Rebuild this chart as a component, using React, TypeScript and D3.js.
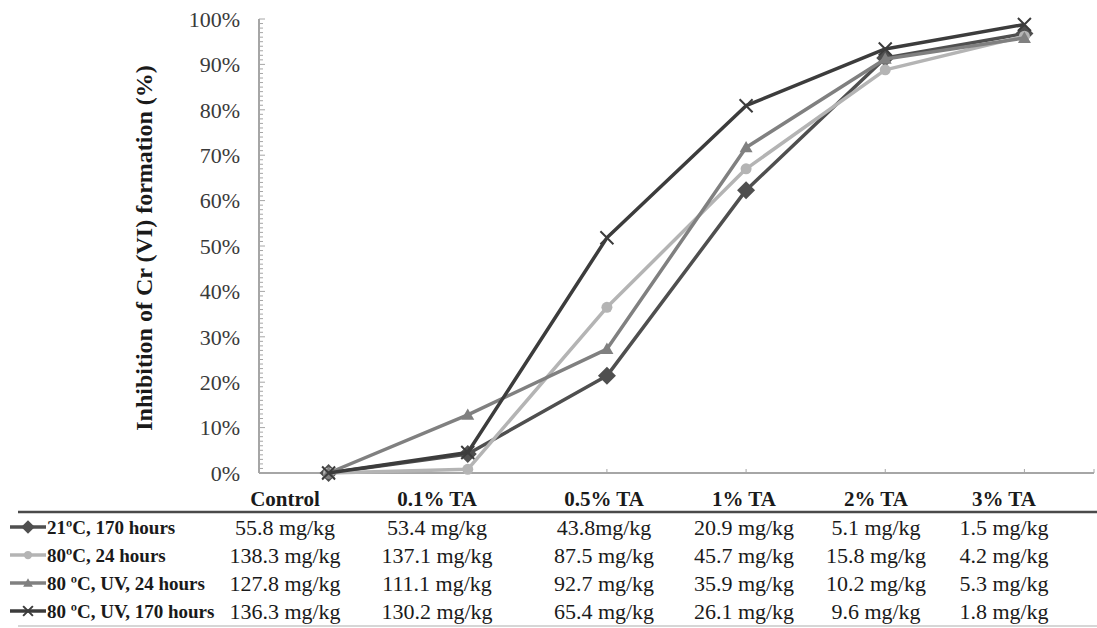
import React from "react";
import * as d3 from "d3";

// categories and series (fraction of inhibition)
const categories = ["Control", "0.1% TA", "0.5% TA", "1% TA", "2% TA", "3% TA"];
const seriesNames = [
  "21ºC, 170 hours",
  "80ºC, 24 hours",
  "80 ºC, UV, 24 hours",
  "80 ºC, UV, 170 hours",
];
const s21c170h = [0, 0.042, 0.214, 0.623, 0.914, 0.968];
const s80c24h = [0, 0.008, 0.365, 0.67, 0.888, 0.962];
const s80cUv24h = [0, 0.128, 0.273, 0.717, 0.912, 0.958];
const s80cUv170h = [0, 0.045, 0.518, 0.809, 0.934, 0.988];
const yTicks = [0, 0.1, 0.2, 0.3, 0.4, 0.5, 0.6, 0.7, 0.8, 0.9, 1];

// table under the chart (remaining Cr(VI))
const tableRows = [
  ["55.8 mg/kg", "53.4 mg/kg", "43.8mg/kg", "20.9 mg/kg", "5.1 mg/kg", "1.5 mg/kg"],
  ["138.3 mg/kg", "137.1 mg/kg", "87.5 mg/kg", "45.7 mg/kg", "15.8 mg/kg", "4.2 mg/kg"],
  ["127.8 mg/kg", "111.1 mg/kg", "92.7 mg/kg", "35.9 mg/kg", "10.2 mg/kg", "5.3 mg/kg"],
  ["136.3 mg/kg", "130.2 mg/kg", "65.4 mg/kg", "26.1 mg/kg", "9.6 mg/kg", "1.8 mg/kg"],
];

const seriesValues = [s21c170h, s80c24h, s80cUv24h, s80cUv170h];
const colors = ["#4f4f4f", "#b4b4b4", "#808080", "#3c3c3c"];
const markers = ["diamond", "circle", "triangle", "cross"];

// layout
const W = 1097;
const H = 628;
const plot = { left: 259, right: 1094, top: 19, bottom: 473 };
const tableCols = [285, 437, 604, 744, 876, 1004];
const headerY = 499;
const rowYs = [527, 555, 583, 611];
const serif = "Liberation Serif";
const axisColor = "#a6a6a6";

const x = d3.scalePoint<string>()
  .domain(categories)
  .range([plot.left, plot.right])
  .padding(0.5);
const y = d3.scaleLinear().domain([0, 1]).range([plot.bottom, plot.top]);
const line = d3.line<number>()
  .x((d, i) => x(categories[i]) as number)
  .y((d) => y(d));

function Marker({ kind, cx, cy, color, scale = 1 }) {
  if (kind === "diamond") {
    const s = 9 * scale;
    return <path d={`M${cx},${cy - s}L${cx + s},${cy}L${cx},${cy + s}L${cx - s},${cy}Z`} fill={color} />;
  }
  if (kind === "circle") {
    return <circle cx={cx} cy={cy} r={5.5 * scale} fill={color} />;
  }
  if (kind === "triangle") {
    const s = 6.5 * scale;
    return <path d={`M${cx},${cy - s}L${cx + s},${cy + s * 0.75}L${cx - s},${cy + s * 0.75}Z`} fill={color} />;
  }
  const s = 6.5 * scale;
  return (
    <path
      d={`M${cx - s},${cy - s}L${cx + s},${cy + s}M${cx - s},${cy + s}L${cx + s},${cy - s}`}
      stroke={color}
      strokeWidth={2}
    />
  );
}

export default function App() {
  const minor = d3.range(0, 101);
  return (
    <div style={{ position: "absolute", left: 0, top: 0, background: "#fff" }}>
      <svg width={W} height={H} style={{ display: "block" }} fontFamily={serif}>
        {/* y axis */}
        <line x1={plot.left} x2={plot.left} y1={plot.top} y2={plot.bottom} stroke={axisColor} strokeWidth={2} />
        {minor.map((d) => (
          <line
            key={d}
            x1={plot.left}
            x2={plot.left + (d % 10 === 0 ? 6 : 4)}
            y1={y(d / 100)}
            y2={y(d / 100)}
            stroke={axisColor}
            strokeWidth={1}
          />
        ))}
        {yTicks.map((t) => (
          <text
            key={t}
            x={240}
            y={y(t)}
            dy="0.35em"
            textAnchor="end"
            fontFamily={serif}
            fontSize={22}
            fill="#3a3a3a"
          >
            {d3.format(".0%")(t)}
          </text>
        ))}

        {/* x axis */}
        <line x1={plot.left} x2={plot.right} y1={plot.bottom} y2={plot.bottom} stroke={axisColor} strokeWidth={2} />
        {[...categories.map((c) => x(c) as number), plot.right].map((px, i) => (
          <line key={i} x1={px} x2={px} y1={plot.bottom} y2={plot.bottom - 4} stroke={axisColor} strokeWidth={1} />
        ))}

        {/* y title */}
        <text
          transform="translate(152,248) rotate(-90)"
          textAnchor="middle"
          fontFamily={serif}
          fontWeight="bold"
          fontSize={24}
          fill="#1a1a1a"
        >
          Inhibition of Cr (VI) formation (%)
        </text>

        {/* series */}
        {seriesValues.map((vals, si) => (
          <g key={si}>
            <path
              d={line(vals) as string}
              fill="none"
              stroke={colors[si]}
              strokeWidth={3.5}
              strokeLinejoin="round"
            />
            {vals.map((v, i) => (
              <Marker key={i} kind={markers[si]} cx={x(categories[i]) as number} cy={y(v)} color={colors[si]} />
            ))}
          </g>
        ))}

        {/* data table */}
        <g fill="#1a1a1a">
          {categories.map((c, i) => (
            <text
              key={c}
              x={tableCols[i]}
              y={headerY}
              dy="0.35em"
              textAnchor="middle"
              fontFamily={serif}
              fontWeight="bold"
              fontSize={21}
            >
              {c}
            </text>
          ))}
          <line x1={18} x2={W} y1={512} y2={512} stroke="#4a4a4a" strokeWidth={2.5} />
          <line x1={18} x2={W} y1={626} y2={626} stroke="#c8c8c8" strokeWidth={1.5} />
          {tableRows.map((row, ri) => (
            <g key={ri}>
              <line x1={10} x2={46} y1={rowYs[ri]} y2={rowYs[ri]} stroke={colors[ri]} strokeWidth={3.5} />
              <Marker kind={markers[ri]} cx={28} cy={rowYs[ri]} color={colors[ri]} scale={0.75} />
              <text x={47} y={rowYs[ri]} dy="0.35em" fontFamily={serif} fontWeight="bold" fontSize={19}>
                {seriesNames[ri]}
              </text>
              {row.map((v, i) => (
                <text
                  key={i}
                  x={tableCols[i]}
                  y={rowYs[ri]}
                  dy="0.35em"
                  textAnchor="middle"
                  fontFamily={serif}
                  fontSize={22}
                >
                  {v}
                </text>
              ))}
            </g>
          ))}
        </g>
      </svg>
    </div>
  );
}
